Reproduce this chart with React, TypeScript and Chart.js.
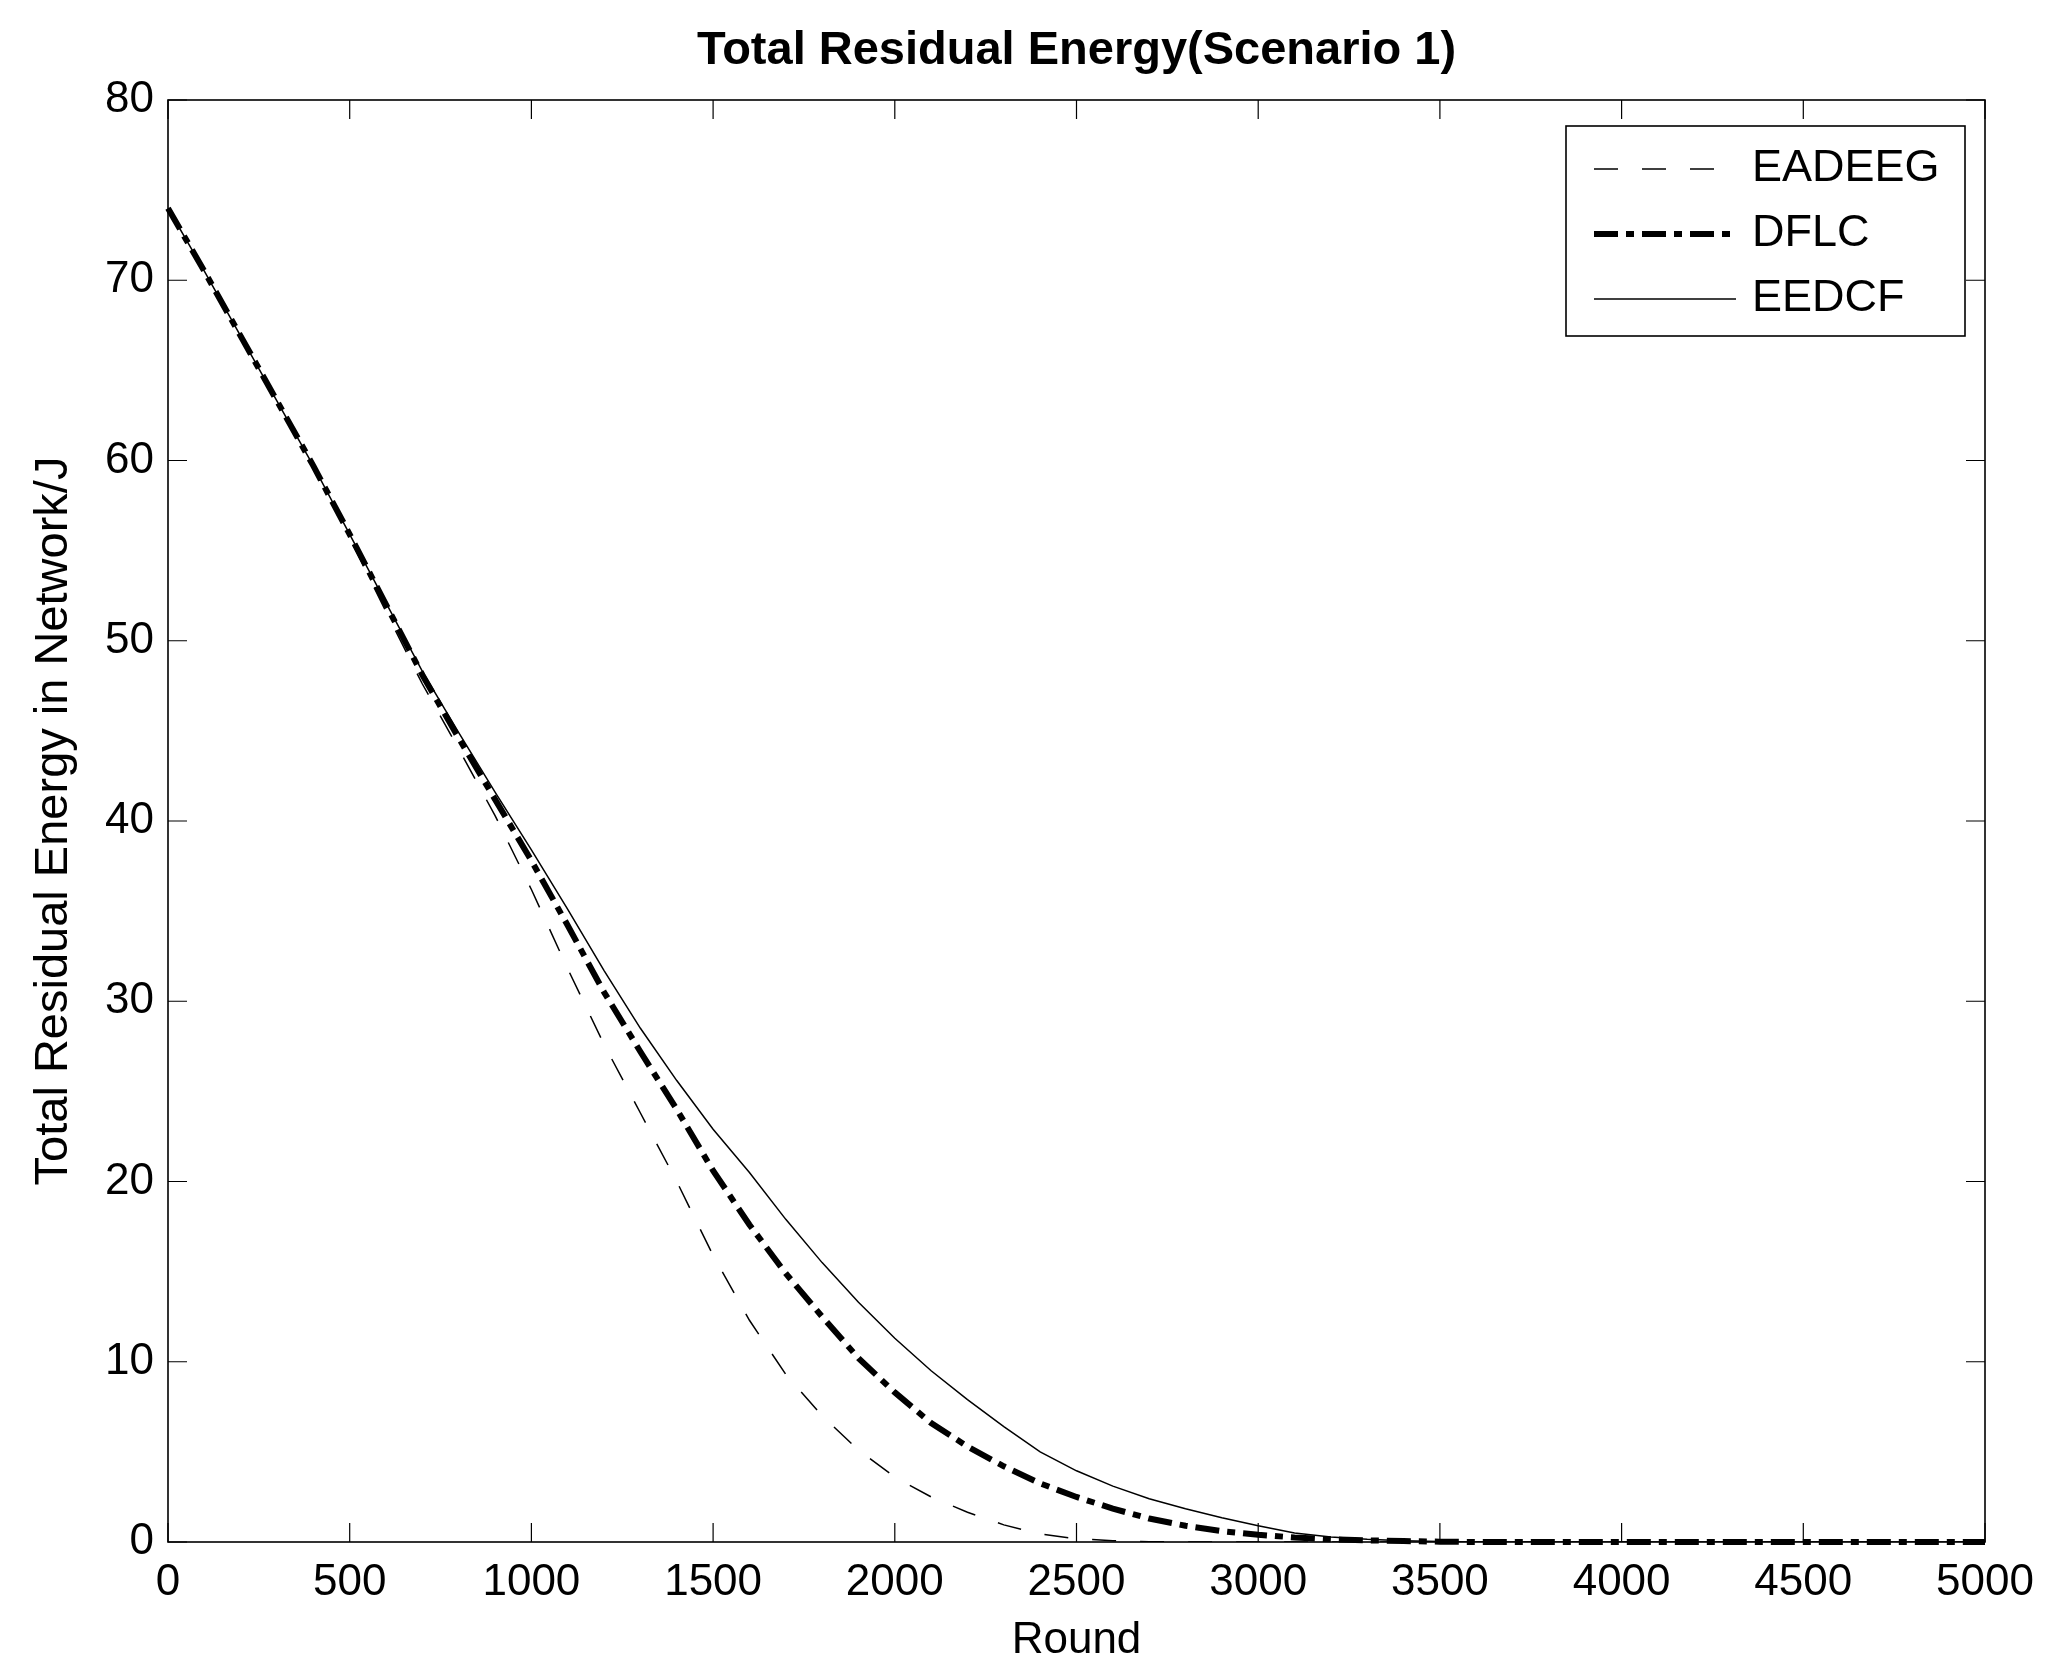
import React, { useEffect, useRef } from "react";
import { Chart, registerables } from "chart.js";

Chart.register(...registerables);

// Rounds (x values)
const ROUNDS = [
  0, 100, 200, 300, 400, 500, 600, 700, 800, 900,
  1000, 1100, 1200, 1300, 1400, 1500, 1600, 1700, 1800, 1900,
  2000, 2100, 2200, 2300, 2400, 2500, 2600, 2700, 2800, 2900,
  3000, 3100, 3200, 3300, 3400, 3500, 3600, 3700, 3800, 3900,
  4000, 4100, 4200, 4300, 4400, 4500, 4600, 4700, 4800, 4900,
  5000,
];

// Total residual energy (J) per series
const EADEEG = [
  74.0, 70.4, 66.8, 63.2, 59.6, 55.7, 51.6, 47.6, 44.0, 40.3,
  36.2, 31.8, 27.6, 23.8, 20.0, 15.9, 12.3, 9.3, 7.0, 5.1,
  3.6, 2.5, 1.65, 0.95, 0.45, 0.18, 0.07, 0.02, 0, 0,
  0, 0, 0, 0, 0, 0, 0, 0, 0, 0,
  0, 0, 0, 0, 0, 0, 0, 0, 0, 0,
  0,
];

const DFLC = [
  74.0, 70.5, 66.9, 63.3, 59.7, 55.9, 52.0, 48.1, 44.6, 41.2,
  37.8, 34.2, 30.5, 27.2, 24.0, 20.6, 17.6, 14.9, 12.5, 10.2,
  8.3, 6.6, 5.3, 4.2, 3.25, 2.5, 1.85, 1.3, 0.9, 0.6,
  0.4, 0.25, 0.15, 0.09, 0.05, 0.02, 0, 0, 0, 0,
  0, 0, 0, 0, 0, 0, 0, 0, 0, 0,
  0,
];

const EEDCF = [
  74.0, 70.5, 66.9, 63.3, 59.7, 55.9, 52.1, 48.3, 44.9, 41.6,
  38.4, 35.1, 31.7, 28.5, 25.6, 22.9, 20.5, 17.9, 15.5, 13.3,
  11.3, 9.5, 7.9, 6.4, 5.0, 3.95, 3.1, 2.4, 1.85, 1.35,
  0.9, 0.5, 0.28, 0.15, 0.07, 0.03, 0, 0, 0, 0,
  0, 0, 0, 0, 0, 0, 0, 0, 0, 0,
  0,
];

const SERIES_LABELS = ["EADEEG", "DFLC", "EEDCF"];

const TITLE = "Total Residual Energy(Scenario 1)";
const X_TITLE = "Round";
const Y_TITLE = "Total Residual Energy in Network/J";

const FONT = "'Liberation Sans', Arial, Helvetica, sans-serif";

const framePlugin = {
  id: "matlabFrame",
  afterDatasetsDraw(chart: any) {
    const { ctx, chartArea: a, scales } = chart;
    const xs = scales.x;
    const ys = scales.y;
    const L = 19;
    ctx.save();
    ctx.setLineDash([]);
    ctx.strokeStyle = "#000";
    ctx.lineWidth = 1.6;
    ctx.strokeRect(a.left, a.top, a.right - a.left, a.bottom - a.top);
    ctx.beginPath();
    xs.ticks.forEach((t: any) => {
      const px = xs.getPixelForValue(t.value);
      ctx.moveTo(px, a.bottom);
      ctx.lineTo(px, a.bottom - L);
      ctx.moveTo(px, a.top);
      ctx.lineTo(px, a.top + L);
    });
    ys.ticks.forEach((t: any) => {
      const py = ys.getPixelForValue(t.value);
      ctx.moveTo(a.left, py);
      ctx.lineTo(a.left + L, py);
      ctx.moveTo(a.right, py);
      ctx.lineTo(a.right - L, py);
    });
    ctx.lineWidth = 1.2;
    ctx.stroke();
    ctx.restore();
  },
};

const legendPlugin = {
  id: "matlabLegend",
  afterDraw(chart: any) {
    const { ctx, chartArea: a } = chart;
    const boxW = 399;
    const boxH = 210;
    const left = a.right - 419;
    const top = a.top + 26;
    ctx.save();
    ctx.fillStyle = "#fff";
    ctx.fillRect(left, top, boxW, boxH);
    ctx.setLineDash([]);
    ctx.strokeStyle = "#000";
    ctx.lineWidth = 1.6;
    ctx.strokeRect(left, top, boxW, boxH);
    const rows = [43, 108, 173];
    chart.data.datasets.forEach((ds: any, i: number) => {
      const y = top + rows[i];
      ctx.beginPath();
      ctx.setLineDash(ds.borderDash || []);
      ctx.lineWidth = ds.borderWidth;
      ctx.lineCap = "butt";
      ctx.strokeStyle = "#000";
      ctx.moveTo(left + 28, y);
      ctx.lineTo(left + 170, y);
      ctx.stroke();
      ctx.setLineDash([]);
      ctx.fillStyle = "#000";
      ctx.font = `45px ${FONT}`;
      ctx.textAlign = "left";
      ctx.textBaseline = "middle";
      ctx.fillText(ds.label, left + 186, y);
    });
    ctx.restore();
  },
};

export default function App() {
  const ref = useRef<HTMLCanvasElement>(null);

  useEffect(() => {
    if (!ref.current) return;
    const mk = (vals: number[]) => ROUNDS.map((r, i) => ({ x: r, y: vals[i] }));
    const chart = new Chart(ref.current, {
      type: "line",
      data: {
        datasets: [
          {
            label: SERIES_LABELS[0],
            data: mk(EADEEG),
            borderColor: "#000",
            borderWidth: 1.5,
            borderDash: [24, 24],
            pointRadius: 0,
            fill: false,
            tension: 0,
          },
          {
            label: SERIES_LABELS[1],
            data: mk(DFLC),
            borderColor: "#000",
            borderWidth: 6,
            borderDash: [24, 8, 8, 8],
            pointRadius: 0,
            fill: false,
            tension: 0,
            clip: 4,
          },
          {
            label: SERIES_LABELS[2],
            data: mk(EEDCF),
            borderColor: "#000",
            borderWidth: 1.5,
            borderDash: [],
            pointRadius: 0,
            fill: false,
            tension: 0,
          },
        ],
      },
      options: {
        animation: false,
        responsive: true,
        maintainAspectRatio: false,
        devicePixelRatio: 1,
        layout: { padding: { left: 0, right: 67, top: 0, bottom: 0 } },
        plugins: {
          legend: { display: false },
          tooltip: { enabled: false },
          title: {
            display: true,
            fullSize: false,
            text: TITLE,
            color: "#000",
            font: { family: FONT, size: 47, weight: "bold" },
            padding: { top: 15, bottom: 20.6 },
          },
        },
        scales: {
          x: {
            type: "linear",
            min: 0,
            max: 5000,
            grid: { display: false, drawTicks: false },
            border: { display: false },
            ticks: {
              stepSize: 500,
              autoSkip: false,
              maxRotation: 0,
              padding: 14,
              color: "#000",
              font: { family: FONT, size: 44 },
              callback: (v: any) => String(v),
            },
            title: {
              display: true,
              text: X_TITLE,
              color: "#000",
              font: { family: FONT, size: 44 },
              padding: { top: 0, bottom: 5 },
            },
            afterFit: (s: any) => {
              s.height = 130;
            },
          },
          y: {
            type: "linear",
            min: 0,
            max: 80,
            grid: { display: false, drawTicks: false },
            border: { display: false },
            ticks: {
              stepSize: 10,
              padding: 14,
              color: "#000",
              font: { family: FONT, size: 44 },
              callback: (v: any) => String(v),
            },
            title: {
              display: true,
              text: Y_TITLE,
              color: "#000",
              font: { family: FONT, size: 47 },
              padding: { top: 18, bottom: 0 },
            },
            afterFit: (s: any) => {
              s.width = 160;
            },
          },
        },
      },
      plugins: [framePlugin, legendPlugin],
    });
    return () => chart.destroy();
  }, []);

  return (
    <div style={{ width: 2044, height: 1664, position: "relative" }}>
      <canvas ref={ref} />
    </div>
  );
}
